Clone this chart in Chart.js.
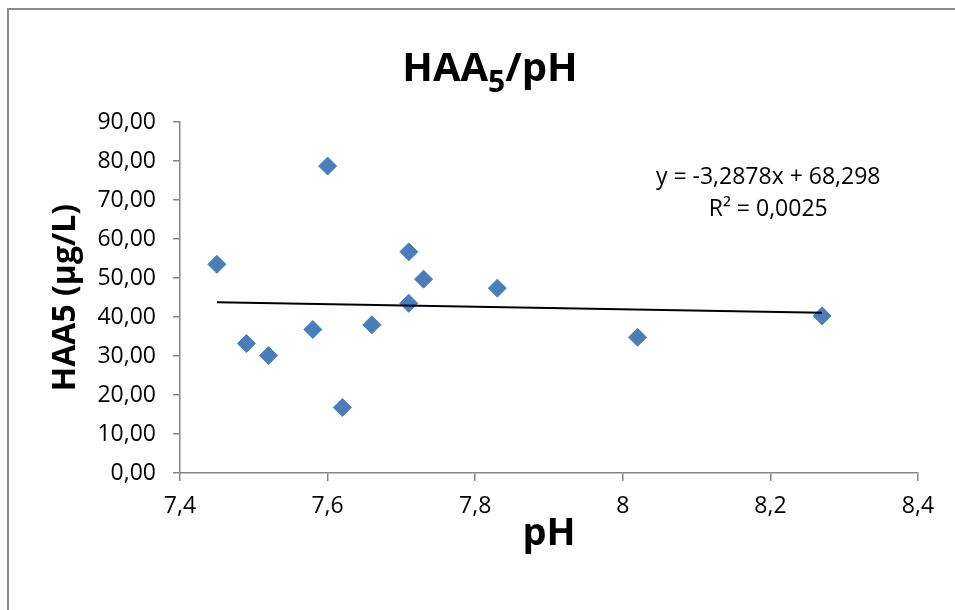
<!DOCTYPE html>
<html>
<head>
<meta charset="utf-8">
<script src="https://cdn.jsdelivr.net/npm/chart.js@4/dist/chart.umd.min.js"></script>
<style>
    html, body { margin: 0; padding: 0; background: #fff; overflow: hidden; }
    #wrap { position: relative; width: 955px; height: 610px; }
    #frame {
        position: absolute; left: 7px; top: 8px; width: 1000px; height: 1000px;
        border-left: 2px solid #8a8a8a; border-top: 2px solid #8a8a8a;
    }
    canvas { position: absolute; left: 0; top: 0; }
</style>
</head>
<body>
<div id="wrap">
    <div id="frame"></div>
    <canvas id="chart" width="955" height="610"></canvas>
</div>
<script>
// pH vs HAA5 measurements
const phValues = [7.45, 7.49, 7.52, 7.58, 7.60, 7.62, 7.66, 7.71, 7.71, 7.73, 7.83, 8.02, 8.27];
const haa5Values = [53.5, 33.2, 30.1, 36.8, 78.7, 16.8, 38.0, 56.7, 43.5, 49.7, 47.4, 34.8, 40.3];

// linear trendline as printed on the chart
const trendSlope = -3.2878;
const trendIntercept = 68.298;
const trendLabel = ['y = -3,2878x + 68,298', 'R² = 0,0025'];

const xTicks = [7.4, 7.6, 7.8, 8.0, 8.2, 8.4];
const yTicks = [0, 10, 20, 30, 40, 50, 60, 70, 80, 90];

const blue = '#4A7EBB';
const axisGray = '#868686';
const font = "'Open Sans', 'Liberation Sans', sans-serif";

const points = phValues.map((x, i) => ({ x: x, y: haa5Values[i] }));
const xMin = Math.min(...phValues);
const xMax = Math.max(...phValues);
const trendPoints = [
    { x: xMin, y: trendSlope * xMin + trendIntercept },
    { x: xMax, y: trendSlope * xMax + trendIntercept }
];

// Title with subscript and the trendline label
const textPlugin = {
    id: 'texts',
    afterDraw(chart) {
        const ctx = chart.ctx;
        ctx.save();
        ctx.fillStyle = '#000';
        ctx.textBaseline = 'alphabetic';

        // HAA5/pH
        const big = 'bold 40px ' + font;
        const small = 'bold 30px ' + font;
        ctx.font = big;
        const w1 = ctx.measureText('HAA').width;
        const w3 = ctx.measureText('/pH').width;
        ctx.font = small;
        const w2 = ctx.measureText('5').width;
        let x = 490 - (w1 + w2 + w3) / 2;
        const base = 81;
        ctx.textAlign = 'left';
        ctx.font = big;
        ctx.fillText('HAA', x, base);
        x += w1;
        ctx.font = small;
        ctx.fillText('5', x, base + 11);
        x += w2;
        ctx.font = big;
        ctx.fillText('/pH', x, base);

        // trendline equation
        const xs = chart.scales.x;
        const ys = chart.scales.y;
        ctx.font = '23px ' + font;
        ctx.textAlign = 'center';
        const lx = xs.getPixelForValue(8.197);
        ctx.fillText(trendLabel[0], lx, ys.getPixelForValue(74.0));
        ctx.fillText(trendLabel[1], lx, ys.getPixelForValue(65.8));
        ctx.restore();
    }
};

new Chart(document.getElementById('chart'), {
    type: 'scatter',
    data: {
        datasets: [
            {
                type: 'line',
                data: trendPoints,
                borderColor: '#000',
                borderWidth: 2,
                pointRadius: 0,
                fill: false,
                order: 0
            },
            {
                data: points,
                pointStyle: 'rectRot',
                pointRadius: 9,
                backgroundColor: blue,
                borderColor: blue,
                borderWidth: 1,
                order: 1
            }
        ]
    },
    options: {
        responsive: false,
        animation: false,
        layout: { padding: { left: 0, top: 122, right: 37, bottom: 0 } },
        plugins: {
            legend: { display: false },
            tooltip: { enabled: false },
            title: { display: false }
        },
        scales: {
            x: {
                type: 'linear',
                min: 7.4,
                max: 8.4,
                afterFit(scale) { scale.height = 137; },
                afterBuildTicks(scale) { scale.ticks = xTicks.map(v => ({ value: v })); },
                border: { color: axisGray, width: 1.5 },
                grid: { drawOnChartArea: false, drawTicks: true, tickLength: 8, color: axisGray, lineWidth: 1.5 },
                ticks: {
                    color: '#000',
                    padding: 12,
                    maxRotation: 0,
                    font: { family: font, size: 23 },
                    callback: v => String(Math.round(v * 10) / 10).replace('.', ',')
                },
                title: {
                    display: true,
                    text: 'pH',
                    color: '#000',
                    font: { family: font, size: 38, weight: 'bold' },
                    padding: { top: 0, bottom: 53 }
                }
            },
            y: {
                type: 'linear',
                min: 0,
                max: 90,
                afterFit(scale) { scale.width = 180; },
                afterBuildTicks(scale) { scale.ticks = yTicks.map(v => ({ value: v })); },
                border: { color: axisGray, width: 1.5 },
                grid: { drawOnChartArea: false, drawTicks: true, tickLength: 7, color: axisGray, lineWidth: 1.5 },
                ticks: {
                    color: '#000',
                    padding: 17,
                    font: { family: font, size: 23 },
                    callback: v => v.toFixed(2).replace('.', ',')
                },
                title: {
                    display: true,
                    text: 'HAA5 (µg/L)',
                    color: '#000',
                    font: { family: font, size: 32, weight: 'bold' },
                    padding: { top: 47, bottom: 0 }
                }
            }
        }
    },
    plugins: [textPlugin]
});
</script>
</body>
</html>
